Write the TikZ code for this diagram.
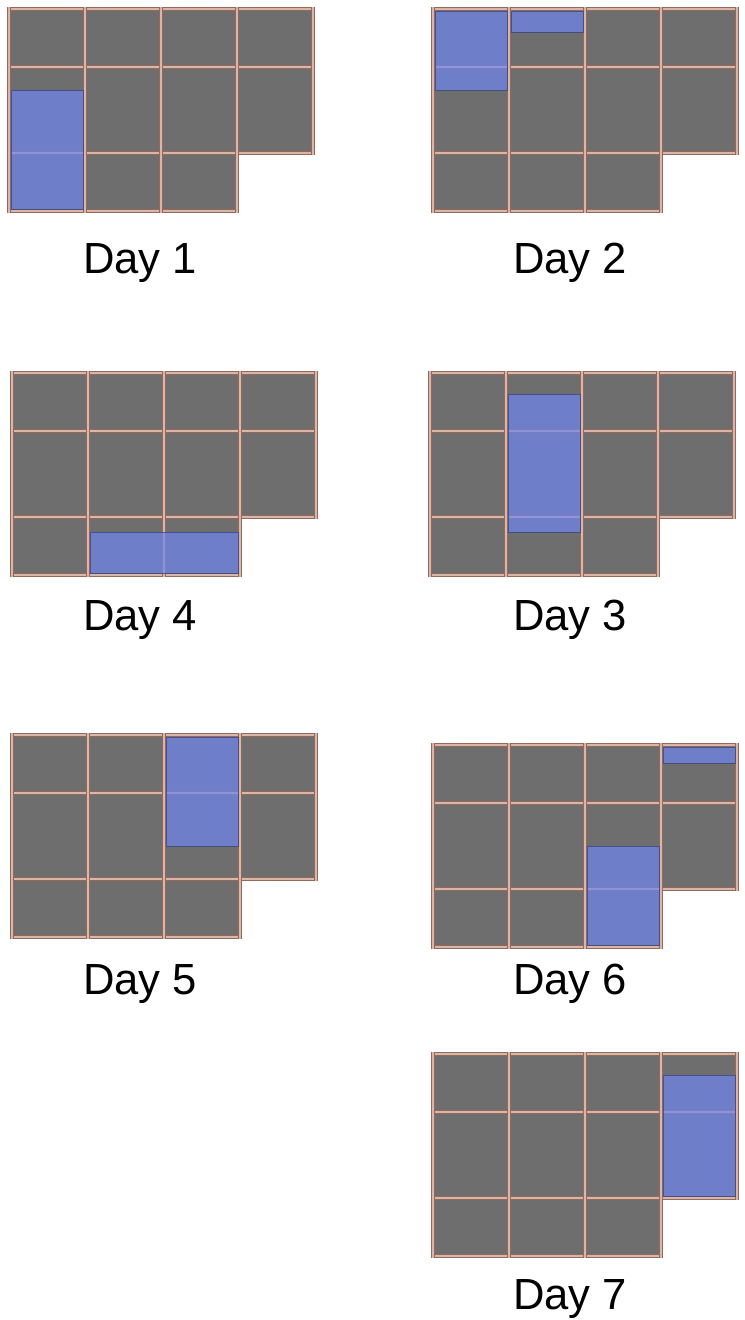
\documentclass[tikz,border=0pt]{standalone}
\usepackage{fontspec}
\setmainfont{Liberation Sans}
\usetikzlibrary{positioning}
\definecolor{SlabGray}{HTML}{6E6E6E}
\definecolor{PourBlue}{HTML}{6F86EF}
\definecolor{PourEdge}{HTML}{3A4680}
\definecolor{BeamTan}{HTML}{D9B6AA}
\definecolor{BeamBrown}{HTML}{94695B}
\tikzset{
  slab/.style={fill=SlabGray},
  beam/.style={draw=BeamBrown, line width=0.4pt, double=BeamTan, double distance=2.1pt},
  pour/.style={fill=PourBlue, fill opacity=0.7, draw=PourEdge, draw opacity=0.8, line width=0.4pt},
  daylabel/.style={anchor=base, inner sep=0pt, font=\fontsize{31}{37}\selectfont}
}
% one floor: slab and beams, origin at top-left beam crossing
\newcommand{\floorplan}{%
  \fill[slab] (0,0) -- (304,0) -- (304,144) -- (228,144) -- (228,202) -- (0,202) -- cycle;
  \foreach \y in {0,58,144} \draw[beam] (-2,\y) -- (306,\y);
  \draw[beam] (-2,202) -- (230,202);
  \foreach \x in {0,76,152,228} \draw[beam] (\x,-2) -- (\x,204);
  \draw[beam] (304,-2) -- (304,146);
}

\begin{document}
\begin{tikzpicture}[x=0.025cm, y=-0.025cm]
\useasboundingbox (0,0) rectangle (744,1320);

% Day 1
\begin{scope}[shift={(9,9)}]
  \floorplan
  \draw[pour] (2,81) rectangle (74,200);
\end{scope}
\node[daylabel] (day1) at (140,273) {Day 1};

% Day 2
\begin{scope}[shift={(433,9)}]
  \floorplan
  \draw[pour] (2,2) rectangle (74,81);
  \draw[pour] (78,2) rectangle (150,23);
\end{scope}
\node[daylabel] (day2) at (570,273) {Day 2};

% Day 4
\begin{scope}[shift={(12,373)}]
  \floorplan
  \draw[pour] (78,159) rectangle (226,200);
\end{scope}
\node[daylabel] (day4) at (140,630) {Day 4};

% Day 3
\begin{scope}[shift={(430,373)}]
  \floorplan
  \draw[pour] (78,21) rectangle (150,159);
\end{scope}
\node[daylabel] (day3) at (570,630) {Day 3};

% Day 5
\begin{scope}[shift={(12,735)}]
  \floorplan
  \draw[pour] (154,2) rectangle (226,111);
\end{scope}
\node[daylabel] (day5) at (140,994) {Day 5};

% Day 6
\begin{scope}[shift={(433,745)}]
  \floorplan
  \draw[pour] (230,2) rectangle (302,18);
  \draw[pour] (154,101) rectangle (226,200);
\end{scope}
\node[daylabel] (day6) at (570,994) {Day 6};

% Day 7
\begin{scope}[shift={(433,1054)}]
  \floorplan
  \draw[pour] (230,21) rectangle (302,142);
\end{scope}
\node[daylabel] (day7) at (570,1309) {Day 7};
\end{tikzpicture}
\end{document}
